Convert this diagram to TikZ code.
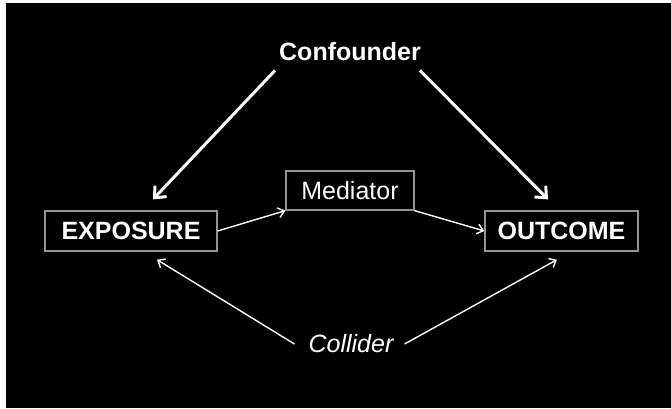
\documentclass[tikz,border=0pt]{standalone}
\usepackage{fontspec}
\setmainfont{Liberation Sans}
\usetikzlibrary{arrows.meta}

\begin{document}
\begin{tikzpicture}[x=1pt,y=1pt,
    box/.style={draw=gray!85,line width=1.3pt,inner sep=0pt,text=white,font=\fontsize{25}{30}\selectfont},
    word/.style={text=white,inner sep=2pt,font=\fontsize{25}{30}\selectfont},
    bigarrow/.style={white,line width=3pt,-{Straight Barb[length=9pt,width=16pt,line width=3pt]}},
    thinarrow/.style={white,line width=1.4pt,-{Straight Barb[length=6pt,width=10pt,line width=1.4pt]}}]
            % Background
            \useasboundingbox (0,0) rectangle (671,408);
            \fill[white] (0,0) rectangle (671,408);
            \fill[black] (6,0) rectangle (671,404.5);

            % Variables
            \node[word,anchor=base] (conf) at (350,348) {\bfseries Confounder};
            \node[box,minimum width=172pt,minimum height=40pt] (exp) at (131,177) {\bfseries EXPOSURE};
            \node[box,minimum width=153pt,minimum height=40pt] (out) at (561.5,177) {\bfseries OUTCOME};
            \node[box,minimum width=128pt,minimum height=39pt] (med) at (350,217.5) {Mediator};
            \node[word] (coll) at (351,64) {\itshape Collider};

            % Confounding paths
            \draw[bigarrow] ([shift={(-2pt,-8pt)}]conf.south west) -- ([shift={(22pt,11pt)}]exp.north);
            \draw[bigarrow] ([shift={(-3pt,-8pt)}]conf.south east) -- ([shift={(-13.5pt,11pt)}]out.north);

            % Mediated path
            \draw[thinarrow] (exp.east) -- (med.south west);
            \draw[thinarrow] (med.south east) -- (out.west);

            % Collider paths
            \draw[thinarrow] ([xshift=-12pt]coll.west) -- ([shift={(26pt,-8pt)}]exp.south);
            \draw[thinarrow] ([xshift=9pt]coll.east) -- ([shift={(-4.5pt,-8pt)}]out.south);
          \end{tikzpicture}
\end{document}
